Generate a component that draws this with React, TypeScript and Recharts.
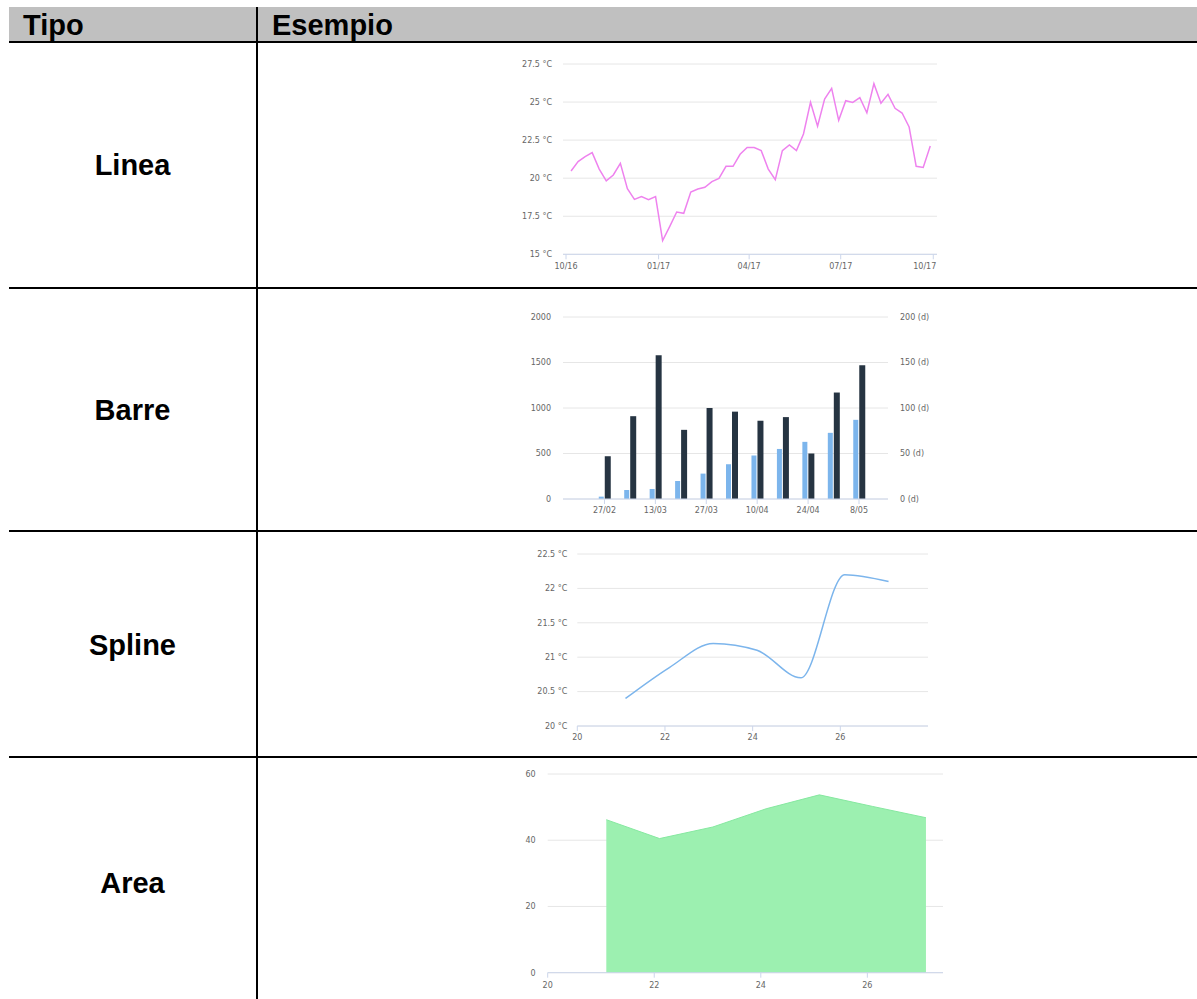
import { LineChart, Line, BarChart, Bar, AreaChart, Area, XAxis, YAxis, CartesianGrid } from "recharts";

// Linea: weekly mean temperature, Oct 2016 - Oct 2017
const DAY = 86400000;
const firstWeek = Date.UTC(2016, 9, 6);
const weeklyTemps = [
  20.47, 21.09, 21.41, 21.68, 20.6, 19.82, 20.21, 20.98, 19.31, 18.61, 18.79, 18.59, 18.79,
  15.9, 16.82, 17.78, 17.69, 19.09, 19.29, 19.4, 19.77, 19.99, 20.78, 20.78, 21.57, 22.01,
  22.01, 21.81, 20.6, 19.9, 21.81, 22.18, 21.81, 22.9, 24.98, 23.41, 25.2, 25.9, 23.8, 25.09,
  24.98, 25.29, 24.3, 26.21, 24.92, 25.51, 24.59, 24.28, 23.36, 20.78, 20.71, 22.11,
];
const monthTicks = [
  Date.UTC(2016, 9, 1),
  Date.UTC(2017, 0, 1),
  Date.UTC(2017, 3, 1),
  Date.UTC(2017, 6, 1),
  Date.UTC(2017, 9, 1),
];
const tempTicks = [15, 17.5, 20, 22.5, 25, 27.5];

// Barre: weekly counts (left axis) and days (right axis)
const barDates = ["27/02", "6/03", "13/03", "20/03", "27/03", "3/04", "10/04", "17/04", "24/04", "1/05", "8/05"];
const barCounts = [26, 99, 110, 198, 279, 382, 477, 550, 628, 727, 870];
const barDays = [47, 91, 158, 76, 100, 96, 86, 90, 50, 117, 147];
const countTicks = [0, 500, 1000, 1500, 2000];
const dayTicks = [0, 50, 100, 150, 200];

// Spline + Area share the same sampling
const sampleX = [21.1, 22.1, 23.1, 24.1, 25.1, 26.1, 27.1];
const splineTemps = [20.4, 20.85, 21.2, 21.1, 20.7, 22.2, 22.1];
const splineTicks = [20, 20.5, 21, 21.5, 22, 22.5];
const areaValues = [46.2, 40.5, 44, 49.5, 53.7, 50.2, 46.8];
const areaTicks = [0, 20, 40, 60];
const dayAxisTicks = [20, 22, 24, 26];

const tempData = weeklyTemps.map((temp, i) => ({ t: firstWeek + i * 7 * DAY, temp }));
const barData = barDates.map((label, i) => ({ i, label, count: barCounts[i], days: barDays[i] }));
const splineData = sampleX.map((x, i) => ({ x, temp: splineTemps[i] }));
const areaData = sampleX.map((x, i) => ({ x, value: areaValues[i] }));

const tickFont = { fontFamily: "DejaVu Sans", fontSize: 8, fill: "#666666" };
const axisColor = "#ccd6eb";
const gridColor = "#e6e6e6";

const monthLabel = (t: number) => {
  const d = new Date(t);
  return `${String(d.getUTCMonth() + 1).padStart(2, "0")}/${String(d.getUTCFullYear()).slice(2)}`;
};

// last month label is pulled inside the plot edge
function MonthTick(props: any) {
  const { x, y, payload } = props;
  const last = payload.value === monthTicks[monthTicks.length - 1];
  return (
    <text x={last ? x + 3 : x} y={y} dy="0.71em" textAnchor={last ? "end" : "middle"} {...tickFont}>
      {monthLabel(payload.value)}
    </text>
  );
}

const rows = [
  { label: "Linea", baseline: 175 },
  { label: "Barre", baseline: 420 },
  { label: "Spline", baseline: 655 },
  { label: "Area", baseline: 893 },
];
const rowLines = [287, 530, 756];

export default function App() {
  return (
    <div
      style={{
        position: "absolute",
        left: 0,
        top: 0,
        width: 1197,
        height: 999,
        background: "#ffffff",
        overflow: "hidden",
      }}
    >
      <svg width={1197} height={999} style={{ position: "absolute", left: 0, top: 0 }}>
        <rect x={9} y={7} width={1188} height={34} fill="#c0c0c0" />
        <rect x={9} y={41} width={1188} height={2} fill="#000000" />
        <rect x={256} y={7} width={2} height={992} fill="#000000" />
        {rowLines.map((y) => (
          <rect key={y} x={9} y={y} width={1188} height={2} fill="#000000" />
        ))}
        <g fontFamily="Liberation Sans, Arial, sans-serif" fontWeight="bold" fontSize={29} fill="#000000">
          <text x={23} y={35}>Tipo</text>
          <text x={272} y={35}>Esempio</text>
          {rows.map((r) => (
            <text key={r.label} x={132.5} y={r.baseline} textAnchor="middle">
              {r.label}
            </text>
          ))}
        </g>
      </svg>

      <div style={{ position: "absolute", left: 500, top: 50 }}>
        <LineChart width={450} height={230} data={tempData} margin={{ top: 14, right: 13, bottom: 0, left: 0 }}>
          <CartesianGrid vertical={false} stroke={gridColor} />
          <XAxis
            type="number"
            dataKey="t"
            domain={[monthTicks[0] - 3 * DAY, monthTicks[4] + 3.7 * DAY]}
            ticks={monthTicks}
            interval={0}
            allowDataOverflow
            stroke={axisColor}
            tick={<MonthTick />}
            tickSize={5}
            tickMargin={4}
            height={25.7}
          />
          <YAxis
            domain={[15, 27.5]}
            ticks={tempTicks}
            width={63}
            axisLine={false}
            tickLine={false}
            tickSize={0}
            tickMargin={11}
            tick={tickFont}
            tickFormatter={(v: number) => `${v} °C`}
          />
          <Line type="linear" dataKey="temp" stroke="#ee82ee" strokeWidth={1.5} dot={false} isAnimationActive={false} />
        </LineChart>
      </div>

      <div style={{ position: "absolute", left: 500, top: 290 }}>
        <BarChart width={450} height={240} data={barData} margin={{ top: 27, right: 12, bottom: 0, left: 0 }} barGap={1}>
          <CartesianGrid vertical={false} stroke={gridColor} yAxisId="left" />
          <XAxis
            type="number"
            dataKey="i"
            domain={[-1.63, 11.14]}
            ticks={[0, 2, 4, 6, 8, 10]}
            tickFormatter={(v: number) => barDates[v] ?? ""}
            allowDataOverflow
            stroke={axisColor}
            tick={tickFont}
            tickSize={5}
            tickMargin={3}
            height={31}
          />
          <YAxis
            yAxisId="left"
            domain={[0, 2000]}
            ticks={countTicks}
            width={63}
            axisLine={false}
            tickLine={false}
            tickSize={0}
            tickMargin={12}
            tick={tickFont}
          />
          <YAxis
            yAxisId="right"
            orientation="right"
            domain={[0, 200]}
            ticks={dayTicks}
            width={50}
            axisLine={false}
            tickLine={false}
            tickSize={0}
            tickMargin={12}
            tick={tickFont}
            tickFormatter={(v: number) => `${v} (d)`}
          />
          <Bar yAxisId="left" dataKey="count" fill="#7cb5ec" barSize={5} isAnimationActive={false} />
          <Bar yAxisId="right" dataKey="days" fill="#263442" barSize={6} isAnimationActive={false} />
        </BarChart>
      </div>

      <div style={{ position: "absolute", left: 500, top: 535 }}>
        <LineChart width={450} height={220} data={splineData} margin={{ top: 19, right: 22, bottom: 0, left: 0 }}>
          <CartesianGrid vertical={false} stroke={gridColor} />
          <XAxis
            type="number"
            dataKey="x"
            domain={[20, 28]}
            ticks={dayAxisTicks}
            allowDataOverflow
            stroke={axisColor}
            tick={tickFont}
            tickSize={5}
            tickMargin={3}
            height={29}
          />
          <YAxis
            domain={[20, 22.5]}
            ticks={splineTicks}
            width={77.3}
            axisLine={false}
            tickLine={false}
            tickSize={0}
            tickMargin={10}
            tick={tickFont}
            tickFormatter={(v: number) => `${v} °C`}
          />
          <Line type="monotone" dataKey="temp" stroke="#7cb5ec" strokeWidth={1.5} dot={false} isAnimationActive={false} />
        </LineChart>
      </div>

      <div style={{ position: "absolute", left: 500, top: 760 }}>
        <AreaChart width={450} height={239} data={areaData} margin={{ top: 14, right: 7, bottom: 0, left: 0 }}>
          <CartesianGrid vertical={false} stroke={gridColor} />
          <XAxis
            type="number"
            dataKey="x"
            domain={[20, 27.42]}
            ticks={dayAxisTicks}
            allowDataOverflow
            stroke={axisColor}
            tick={tickFont}
            tickSize={5}
            tickMargin={4.5}
            height={26.3}
          />
          <YAxis
            domain={[0, 60]}
            ticks={areaTicks}
            width={47.7}
            axisLine={false}
            tickLine={false}
            tickSize={0}
            tickMargin={12}
            tick={tickFont}
          />
          <Area
            type="linear"
            dataKey="value"
            stroke="#86e8a0"
            strokeWidth={1}
            fill="#9cf0b0"
            fillOpacity={1}
            isAnimationActive={false}
          />
        </AreaChart>
      </div>
    </div>
  );
}
